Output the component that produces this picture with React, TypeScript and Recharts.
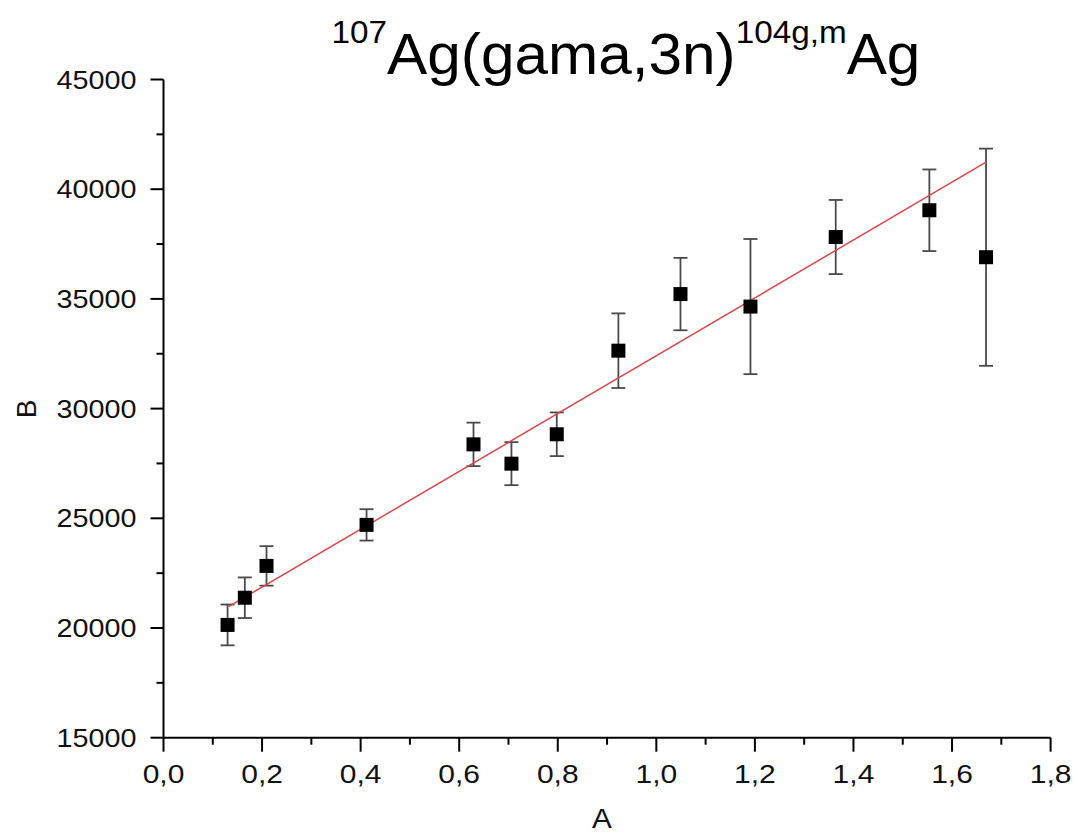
import React from "react";
import { ErrorBar, Scatter, ScatterChart, XAxis, YAxis } from "recharts";

const xValues = [0.13, 0.165, 0.209, 0.412, 0.629, 0.706, 0.798, 0.923, 1.049, 1.191, 1.364, 1.554, 1.669];
const yValues = [20140, 21380, 22830, 24700, 28370, 27490, 28830, 32640, 35220, 34650, 37820, 39040, 36900];
const yErrors = [930, 925, 900, 715, 990, 980, 995, 1700, 1650, 3080, 1690, 1860, 4950];

const fitX = [0.132, 1.669];
const fitY = [20970, 41230];

const xTicks = [0, 0.1, 0.2, 0.3, 0.4, 0.5, 0.6, 0.7, 0.8, 0.9, 1.0, 1.1, 1.2, 1.3, 1.4, 1.5, 1.6, 1.7, 1.8];
const yTicks = [15000, 17500, 20000, 22500, 25000, 27500, 30000, 32500, 35000, 37500, 40000, 42500, 45000];

const points = xValues.map((x, i) => ({ x, y: yValues[i], err: yErrors[i] }));
const fitLine = fitX.map((x, i) => ({ x, y: fitY[i] }));

const FONT = "'Liberation Sans', Arial, sans-serif";

const isMajorX = (v: number) => Math.round(v * 10) % 2 === 0;
const isMajorY = (v: number) => v % 5000 === 0;

function XTick(props: any) {
  const { x, y, payload } = props;
  const major = isMajorX(payload.value);
  return (
    <g>
      <line x1={x} y1={y} x2={x} y2={y + (major ? 14 : 7)} stroke="#000" strokeWidth={2} />
      {major && (
        <text transform={`translate(${x},${y + 45}) scale(1.2,1)`} textAnchor="middle" fontSize={25} fontFamily={FONT} fill="#111">
          {payload.value.toFixed(1).replace(".", ",")}
        </text>
      )}
    </g>
  );
}

function YTick(props: any) {
  const { x, y, payload } = props;
  const major = isMajorY(payload.value);
  return (
    <g>
      <line x1={x} y1={y} x2={x - (major ? 13 : 7)} y2={y} stroke="#000" strokeWidth={2} />
      {major && (
        <text transform={`translate(${x - 27},${y + 9}) scale(1.15,1)`} textAnchor="end" fontSize={25} fontFamily={FONT} fill="#111">
          {payload.value}
        </text>
      )}
    </g>
  );
}

const square = (p: any) => <rect x={p.cx - 7} y={p.cy - 7} width={14} height={14} fill="#000" />;

export default function App() {
  return (
    <div style={{ position: "absolute", left: 0, top: 0, width: 1078, height: 835, background: "#fff" }}>
      <ScatterChart width={1078} height={835} margin={{ top: 79.5, right: 27.4, bottom: 37.3, left: 63.5 }}>
        <XAxis
          type="number"
          dataKey="x"
          domain={[0, 1.8]}
          ticks={xTicks}
          interval={0}
          tickSize={0}
          tickMargin={0}
          tickLine={false}
          height={60}
          tick={<XTick />}
          axisLine={{ stroke: "#000", strokeWidth: 2 }}
        />
        <YAxis
          type="number"
          dataKey="y"
          domain={[15000, 45000]}
          ticks={yTicks}
          interval={0}
          tickSize={0}
          tickMargin={0}
          tickLine={false}
          width={100}
          tick={<YTick />}
          axisLine={{ stroke: "#000", strokeWidth: 2 }}
        />
        <Scatter data={fitLine} line={{ stroke: "#d9474b", strokeWidth: 1.5 }} shape={() => <g />} isAnimationActive={false} />
        <Scatter data={points} shape={square} isAnimationActive={false}>
          <ErrorBar dataKey="err" direction="y" width={7} stroke="#4a4a4a" strokeWidth={1.8} isAnimationActive={false} />
        </Scatter>
      </ScatterChart>
      <svg width={1078} height={835} style={{ position: "absolute", left: 0, top: 0, pointerEvents: "none" }}>
        <text transform="translate(626,74) scale(1.04,1)" textAnchor="middle" fontFamily={FONT} fill="#000">
          <tspan fontSize={32} dy={-31}>107</tspan>
          <tspan fontSize={58} dy={31}>Ag(gama,3n)</tspan>
          <tspan fontSize={32} dy={-31}>104g,m</tspan>
          <tspan fontSize={58} dy={31}>Ag</tspan>
        </text>
        <text transform="translate(602,828) scale(1.1,1)" textAnchor="middle" fontSize={27} fontFamily={FONT} fill="#111">A</text>
        <text transform="translate(36,409) rotate(-90)" textAnchor="middle" fontSize={28} fontFamily={FONT} fill="#111">B</text>
      </svg>
    </div>
  );
}
